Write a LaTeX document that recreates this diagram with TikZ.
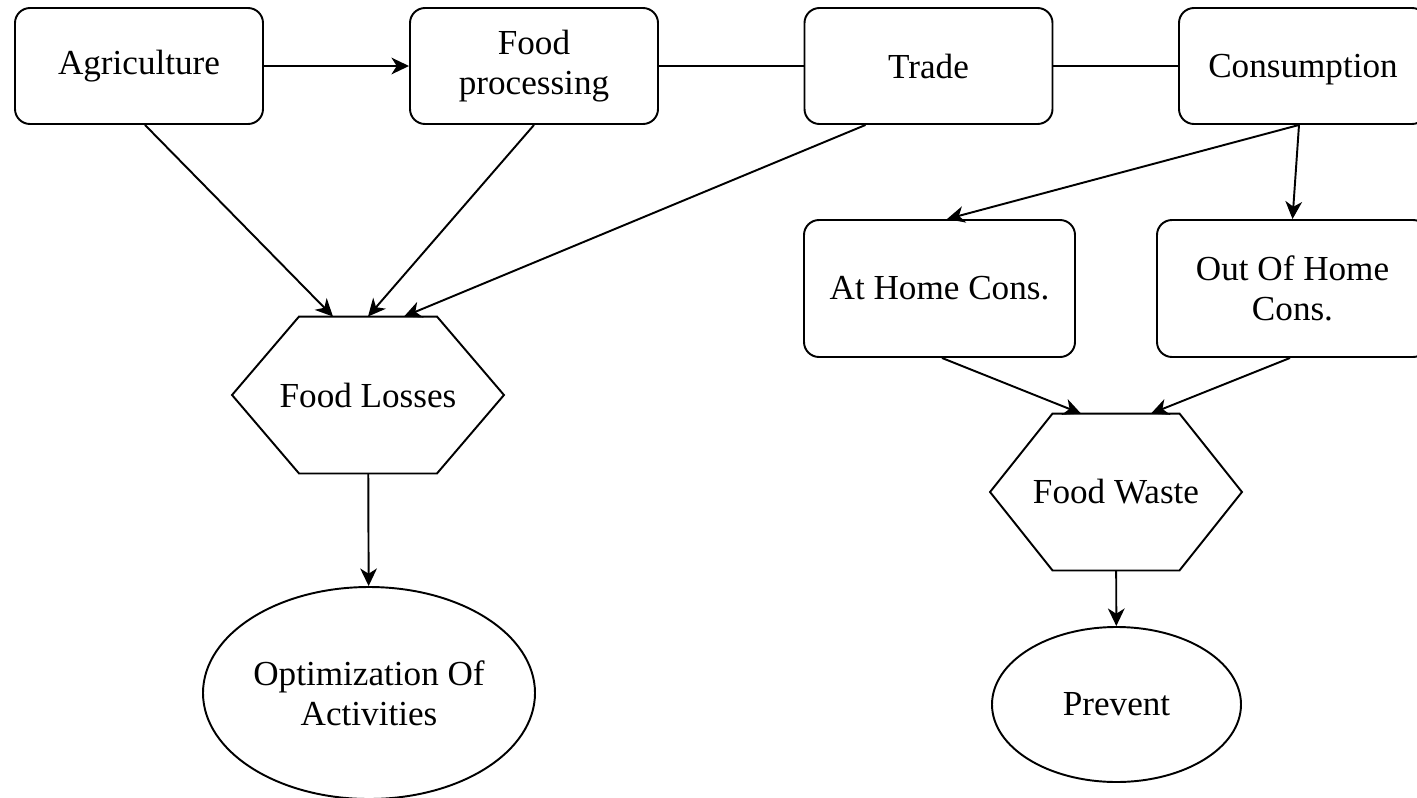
\documentclass[tikz,border=0pt]{standalone}
\usepackage{fontspec}
\setmainfont{Liberation Serif}
\usetikzlibrary{positioning, arrows.meta, shapes.geometric}

\begin{document}
\begin{tikzpicture}[
	font=\fontsize{20}{23}\selectfont, line width=1.1pt,
	>={Stealth[length=10pt, width=9.5pt, inset=3pt]},
	stage/.style={draw, rounded corners=0.3cm, align=center, inner sep=0pt,
		minimum width=4.96cm, minimum height=2.32cm},
	sub/.style={draw, rounded corners=0.3cm, align=center, inner sep=0pt,
		minimum width=5.42cm, minimum height=2.74cm},
	hexa/.style={inner sep=0pt, minimum height=3.1cm},
	goal/.style={draw, ellipse, align=center, inner sep=0pt}
	]
	
	%Frame
	\useasboundingbox (0,0) rectangle (28.34,-15.96);
	
	%Chain
	\node (agri) at(2.78,-1.32) [stage]{Agriculture};
	\node (proc) at(10.68,-1.32) [stage]{Food\\processing};
	\node (trade) at(18.57,-1.32) [stage]{Trade};
	\node (cons) at(26.06,-1.32) [stage, text depth=0pt]{Consumption};
	
	%Consumption types
	\node (athome) at(18.79,-5.77) [sub]{At Home Cons.};
	\node (outhome) at(25.85,-5.77) [sub]{Out Of Home\\Cons.};
	
	%Losses and waste
	\node (losses) at(7.36,-7.9) [hexa, minimum width=5.4cm]{Food Losses};
	\draw[line join=miter] (losses.west) -- ([xshift=1.34cm]losses.north west)
		-- ([xshift=-1.34cm]losses.north east) -- (losses.east)
		-- ([xshift=-1.34cm]losses.south east) -- ([xshift=1.34cm]losses.south west) -- cycle;
	\node (waste) at(22.32,-9.84) [hexa, minimum width=5cm]{Food Waste};
	\draw[line join=miter] (waste.west) -- ([xshift=1.25cm]waste.north west)
		-- ([xshift=-1.25cm]waste.north east) -- (waste.east)
		-- ([xshift=-1.25cm]waste.south east) -- ([xshift=1.25cm]waste.south west) -- cycle;
	
	%Goals
	\node (optim) at(7.38,-13.86) [goal, minimum width=6.64cm, minimum height=4.24cm]
		{Optimization Of\\Activities};
	\node (prevent) at(22.33,-14.09) [goal, minimum width=4.98cm, minimum height=3.1cm]
		{Prevent};
	
	%Links
	\draw[->] (agri) -- (proc);
	\draw (proc) -- (trade);
	\draw (trade) -- (cons);
	
	\draw[->] ([xshift=0.12cm]agri.south) -- ([xshift=-0.7cm]losses.north);
	\draw[->] (proc.south) -- (losses.north);
	\draw[->] ([xshift=-1.26cm]trade.south) -- ([xshift=0.72cm]losses.north);
	\draw[->] (losses) -- (optim);
	
	\draw[->] ([xshift=-0.08cm]cons.south) -- ([xshift=0.15cm]athome.north);
	\draw[->] ([xshift=-0.08cm]cons.south) -- (outhome.north);
	\draw[->] ([xshift=0.05cm]athome.south) -- ([xshift=-0.7cm]waste.north);
	\draw[->] ([xshift=-0.05cm]outhome.south) -- ([xshift=0.7cm]waste.north);
	\draw[->] (waste) -- (prevent);
	
\end{tikzpicture}
\end{document}
